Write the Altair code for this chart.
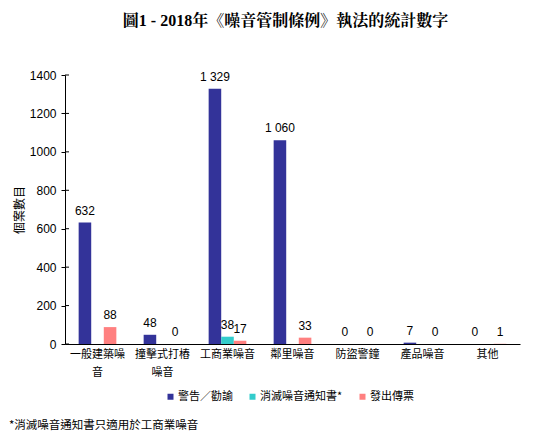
import altair as alt
import pandas as pd

categories = ["一般建築噪音", "撞擊式打樁噪音", "工商業噪音", "鄰里噪音", "防盜警鐘", "產品噪音", "其他"]
series = ["警告／勸諭", "消滅噪音通知書*", "發出傳票"]
warnings = [632, 48, 1329, 1060, 0, 7, 0]
abatement = [None, None, 38, None, None, None, None]
summonses = [88, 0, 17, 33, 0, 0, 1]
colors = ["#333399", "#33CCCC", "#FF8080"]
y_ticks = [0, 200, 400, 600, 800, 1000, 1200, 1400]
footnote = "*消滅噪音通知書只適用於工商業噪音"

rows = []
for name, values in zip(series, [warnings, abatement, summonses]):
    for cat, v in zip(categories, values):
        if v is not None:
            rows.append({"category": cat, "series": name, "value": v})
df = pd.DataFrame(rows)

sans = "Liberation Sans, Arial, Noto Sans CJK TC"
cjk = "Noto Sans CJK TC"

x_enc = alt.X(
    "category:N",
    sort=categories,
    title=None,
    scale=alt.Scale(paddingInner=0.42, paddingOuter=0.21),
    axis=alt.Axis(
        labelAngle=0,
        ticks=False,
        labelFont=cjk,
        labelFontSize=11,
        labelColor="black",
        labelPadding=4,
        labelLineHeight=18,
        labelExpr="length(datum.label) > 5 ? [substring(datum.label, 0, 5), substring(datum.label, 5)] : datum.label",
        domainColor="black",
    ),
)
xo_enc = alt.XOffset("series:N", sort=series, scale=alt.Scale(domain=series))
y_enc = alt.Y(
    "value:Q",
    title="個案數目",
    scale=alt.Scale(domain=[0, 1400], nice=False),
    axis=alt.Axis(
        values=y_ticks,
        format="d",
        grid=False,
        tickSize=4,
        tickColor="black",
        domainColor="black",
        labelFont=sans,
        labelFontSize=12,
        labelColor="black",
        labelPadding=5,
        titleFont=cjk,
        titleFontSize=12,
        titleFontWeight="normal",
        titleColor="black",
        titlePadding=3,
    ),
)

bars = alt.Chart(df).mark_bar().encode(
    x=x_enc,
    xOffset=xo_enc,
    y=y_enc,
    color=alt.Color(
        "series:N",
        sort=series,
        scale=alt.Scale(domain=series, range=colors),
        legend=alt.Legend(
            title=None,
            orient="none",
            legendX=100,
            legendY=316,
            direction="horizontal",
            symbolType="square",
            symbolSize=36,
            symbolStrokeWidth=0,
            labelFont=cjk,
            labelFontSize=11,
            labelColor="black",
            labelOffset=2,
            columnPadding=14,
        ),
    ),
)

labels = (
    alt.Chart(df)
    .transform_calculate(label="replace(format(datum.value, ','), ',', ' ')")
    .mark_text(baseline="bottom", dy=-5, fontSize=12, font=sans, color="black")
    .encode(x=x_enc, xOffset=xo_enc, y=y_enc, text="label:N")
)

inner_ticks = (
    alt.Chart(pd.DataFrame({"value": y_ticks}))
    .mark_rule(color="black", strokeWidth=1)
    .encode(y=y_enc, x=alt.value(0), x2=alt.value(4))
)

note = (
    alt.Chart(pd.DataFrame({"t": [footnote]}))
    .mark_text(align="left", baseline="middle", font=cjk, fontSize=11.5, color="black")
    .encode(x=alt.value(-56), y=alt.value(351), text="t:N")
)

chart = (
    alt.layer(bars, labels, inner_ticks, note)
    .properties(
        width=455,
        height=269,
        autosize=alt.AutoSizeParams(type="none"),
        padding={"left": 57, "top": 67, "right": 15, "bottom": 88},
        title=alt.TitleParams(
            "圖1 - 2018年《噪音管制條例》執法的統計數字",
            font="Liberation Serif, Noto Serif CJK TC, Noto Sans CJK TC",
            fontSize=16,
            fontWeight="bold",
            color="black",
            anchor="middle",
            offset=40,
            dx=-7,
        ),
    )
    .configure_view(stroke=None)
)

chart.save("out.html", embed_options={"renderer": "svg", "actions": False})
